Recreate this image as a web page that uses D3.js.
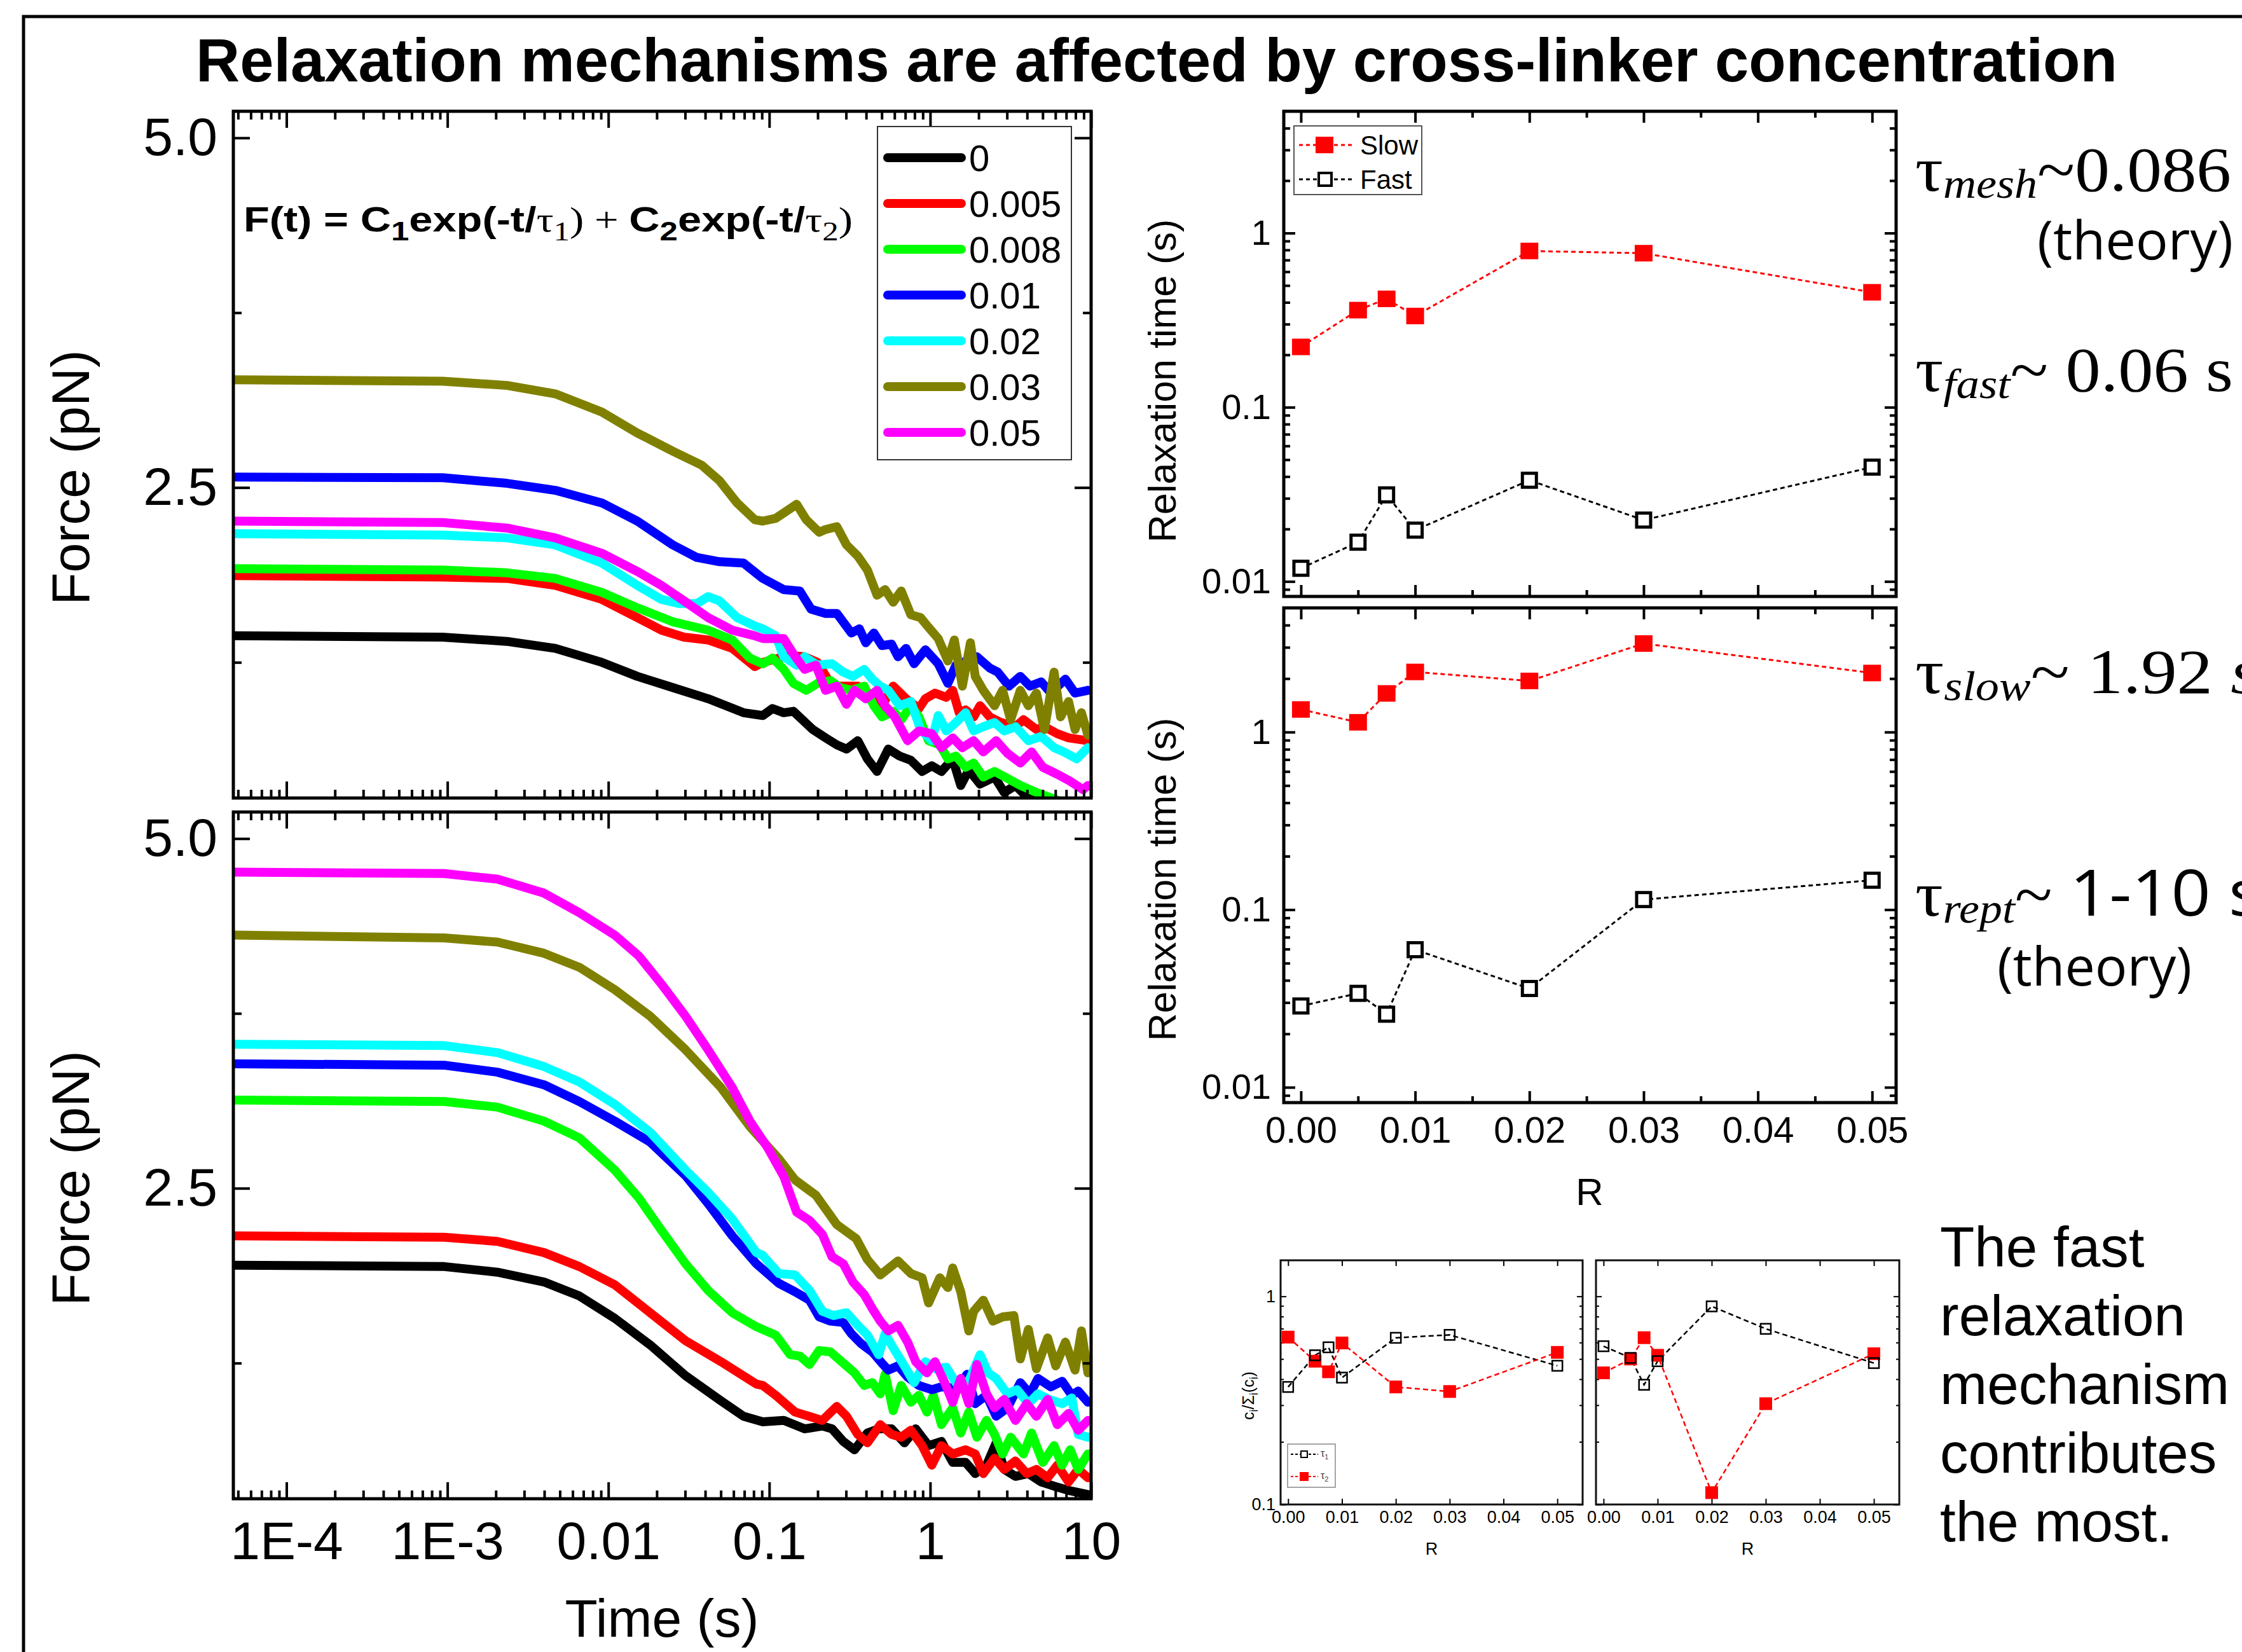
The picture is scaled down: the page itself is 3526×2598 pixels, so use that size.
<!DOCTYPE html>
<html>
<head>
<meta charset="utf-8">
<script src="https://cdn.jsdelivr.net/npm/d3@7"></script>
<style>
  body { margin: 0; background: #fff; }
  svg text { font-family: Arial, "Liberation Sans", sans-serif; }
</style>
</head>
<body>
<svg id="fig" width="3526" height="2598"></svg>
<script>
// ---------- data ----------
const concLabels = ['0', '0.005', '0.008', '0.01', '0.02', '0.03', '0.05'];
const concColors = ['#000000', '#ff0000', '#00ff00', '#0000ff', '#00ffff', '#808000', '#ff00ff'];
const timeTicks = [1e-4, 1e-3, 0.01, 0.1, 1, 10];
const timeTickLabels = ['1E-4', '1E-3', '0.01', '0.1', '1', '10'];
const forceTicks = [2.5, 5.0];
const forceMinorTicks = [1.25, 3.75];

// force relaxation curves, points are [log10(t / s), F (pN)]
const top0 = [[-4.33,1.44],[-3.03,1.43],[-2.63,1.40],[-2.33,1.35],[-2.04,1.25],[-1.82,1.15],[-1.60,1.07],[-1.38,0.99],[-1.16,0.89],[-1.04,0.87],[-0.98,0.92],[-0.91,0.89],[-0.85,0.90],[-0.73,0.77],[-0.65,0.71],[-0.58,0.66],[-0.52,0.63],[-0.45,0.69],[-0.39,0.56],[-0.33,0.47],[-0.26,0.63],[-0.19,0.58],[-0.12,0.55],[-0.05,0.47],[0.01,0.51],[0.07,0.47],[0.14,0.56],[0.19,0.37],[0.24,0.48],[0.31,0.38],[0.40,0.43],[0.46,0.32],[0.53,0.37],[0.60,0.29],[0.70,0.25],[0.85,0.22]];
const top005 = [[-4.33,1.87],[-3.03,1.86],[-2.63,1.85],[-2.33,1.80],[-2.04,1.70],[-1.82,1.57],[-1.67,1.48],[-1.53,1.43],[-1.38,1.41],[-1.23,1.35],[-1.09,1.22],[-1.04,1.25],[-0.88,1.30],[-0.78,1.29],[-0.70,1.25],[-0.61,1.08],[-0.52,1.08],[-0.45,1.08],[-0.40,1.05],[-0.31,0.92],[-0.23,1.08],[-0.15,0.99],[-0.07,0.92],[-0.03,0.99],[0.03,1.03],[0.10,1.00],[0.14,1.05],[0.18,0.89],[0.22,0.91],[0.27,0.86],[0.31,0.94],[0.37,0.86],[0.44,0.82],[0.53,0.79],[0.58,0.84],[0.66,0.77],[0.71,0.79],[0.79,0.74],[0.86,0.71],[0.98,0.69]];
const top008 = [[-4.33,1.92],[-3.03,1.91],[-2.63,1.89],[-2.33,1.85],[-2.04,1.75],[-1.82,1.64],[-1.60,1.54],[-1.38,1.48],[-1.23,1.41],[-1.12,1.28],[-1.04,1.24],[-0.98,1.28],[-0.91,1.20],[-0.85,1.10],[-0.77,1.05],[-0.70,1.10],[-0.62,1.12],[-0.56,1.07],[-0.49,1.05],[-0.41,1.08],[-0.35,0.94],[-0.30,0.86],[-0.23,0.90],[-0.18,0.84],[-0.12,0.94],[-0.07,0.86],[-0.01,0.69],[0.06,0.66],[0.11,0.56],[0.16,0.58],[0.22,0.50],[0.27,0.53],[0.33,0.43],[0.40,0.47],[0.48,0.42],[0.56,0.37],[0.66,0.32],[0.80,0.26]];
const top01 = [[-4.33,2.575],[-3.03,2.57],[-2.63,2.53],[-2.33,2.48],[-2.04,2.39],[-1.82,2.26],[-1.60,2.09],[-1.45,2.00],[-1.31,1.97],[-1.16,1.96],[-1.04,1.85],[-0.91,1.77],[-0.81,1.76],[-0.74,1.63],[-0.65,1.60],[-0.58,1.60],[-0.49,1.46],[-0.44,1.49],[-0.40,1.39],[-0.35,1.46],[-0.30,1.37],[-0.24,1.38],[-0.20,1.29],[-0.15,1.35],[-0.10,1.24],[-0.03,1.34],[0.05,1.24],[0.11,1.10],[0.16,1.23],[0.29,1.29],[0.37,1.21],[0.42,1.18],[0.49,1.08],[0.56,1.15],[0.62,1.08],[0.69,1.11],[0.75,1.03],[0.84,1.13],[0.90,1.03],[0.98,1.05]];
const top02 = [[-4.33,2.17],[-3.03,2.16],[-2.63,2.14],[-2.33,2.09],[-2.04,1.96],[-1.82,1.80],[-1.67,1.70],[-1.56,1.67],[-1.45,1.67],[-1.38,1.72],[-1.31,1.69],[-1.20,1.57],[-1.09,1.51],[-1.04,1.49],[-0.96,1.44],[-0.91,1.29],[-0.83,1.23],[-0.78,1.29],[-0.70,1.23],[-0.61,1.24],[-0.54,1.18],[-0.48,1.15],[-0.41,1.20],[-0.36,1.13],[-0.31,1.08],[-0.26,1.05],[-0.19,0.94],[-0.12,0.97],[-0.06,0.77],[0.01,0.69],[0.05,0.87],[0.10,0.76],[0.16,0.82],[0.22,0.89],[0.27,0.76],[0.33,0.79],[0.40,0.82],[0.46,0.76],[0.53,0.79],[0.61,0.69],[0.69,0.72],[0.77,0.64],[0.83,0.61],[0.91,0.56],[0.98,0.64]];
const top03 = [[-4.33,3.27],[-3.03,3.26],[-2.63,3.23],[-2.33,3.17],[-2.04,3.04],[-1.82,2.89],[-1.60,2.76],[-1.42,2.66],[-1.31,2.55],[-1.20,2.39],[-1.09,2.27],[-1.04,2.26],[-0.96,2.28],[-0.83,2.38],[-0.77,2.27],[-0.69,2.18],[-0.65,2.20],[-0.58,2.22],[-0.52,2.09],[-0.45,2.01],[-0.39,1.91],[-0.33,1.73],[-0.28,1.77],[-0.23,1.68],[-0.18,1.76],[-0.12,1.59],[-0.06,1.57],[-0.01,1.50],[0.05,1.42],[0.11,1.26],[0.15,1.41],[0.20,1.08],[0.25,1.39],[0.28,1.15],[0.33,1.05],[0.40,0.94],[0.45,1.05],[0.50,0.84],[0.56,1.05],[0.61,0.94],[0.66,1.03],[0.71,0.77],[0.77,1.18],[0.81,0.86],[0.86,0.97],[0.90,0.77],[0.94,0.89],[0.98,0.73]];
const top05 = [[-4.33,2.26],[-3.03,2.25],[-2.63,2.21],[-2.33,2.14],[-2.04,2.03],[-1.82,1.90],[-1.67,1.80],[-1.53,1.69],[-1.38,1.57],[-1.23,1.48],[-1.09,1.44],[-1.04,1.42],[-0.91,1.42],[-0.85,1.31],[-0.78,1.20],[-0.71,1.23],[-0.65,1.05],[-0.58,1.08],[-0.52,0.95],[-0.47,1.05],[-0.40,0.99],[-0.33,1.05],[-0.28,0.94],[-0.22,0.86],[-0.14,0.69],[-0.07,0.76],[0.01,0.74],[0.07,0.64],[0.14,0.71],[0.20,0.64],[0.27,0.69],[0.33,0.61],[0.41,0.69],[0.48,0.60],[0.56,0.53],[0.63,0.61],[0.70,0.50],[0.79,0.45],[0.87,0.40],[0.95,0.34],[0.98,0.37]];

const bot0 = [[-4.33,1.95],[-3.02,1.94],[-2.69,1.90],[-2.40,1.83],[-2.18,1.73],[-1.96,1.57],[-1.74,1.38],[-1.52,1.16],[-1.30,0.98],[-1.16,0.87],[-1.04,0.83],[-0.91,0.84],[-0.78,0.78],[-0.67,0.80],[-0.61,0.78],[-0.54,0.69],[-0.47,0.63],[-0.39,0.75],[-0.32,0.78],[-0.24,0.78],[-0.16,0.68],[-0.09,0.78],[-0.01,0.66],[0.07,0.69],[0.14,0.54],[0.22,0.54],[0.28,0.46],[0.35,0.52],[0.41,0.68],[0.46,0.49],[0.53,0.44],[0.61,0.46],[0.69,0.40],[0.77,0.37],[0.86,0.34],[0.98,0.31]];
const bot005 = [[-4.33,2.16],[-3.02,2.15],[-2.69,2.12],[-2.40,2.04],[-2.18,1.94],[-1.96,1.81],[-1.74,1.61],[-1.52,1.41],[-1.30,1.26],[-1.08,1.10],[-1.04,1.09],[-0.96,1.02],[-0.84,0.90],[-0.67,0.84],[-0.58,0.94],[-0.52,0.87],[-0.45,0.74],[-0.39,0.68],[-0.31,0.81],[-0.24,0.74],[-0.18,0.72],[-0.12,0.77],[-0.05,0.66],[0.01,0.52],[0.07,0.66],[0.14,0.60],[0.22,0.63],[0.28,0.60],[0.33,0.46],[0.40,0.57],[0.46,0.49],[0.53,0.55],[0.60,0.46],[0.66,0.49],[0.73,0.43],[0.79,0.52],[0.86,0.40],[0.92,0.49],[0.98,0.43]];
const bot008 = [[-4.33,3.13],[-3.02,3.12],[-2.69,3.08],[-2.40,2.98],[-2.18,2.86],[-1.96,2.63],[-1.81,2.43],[-1.67,2.20],[-1.52,1.96],[-1.38,1.77],[-1.23,1.61],[-1.08,1.51],[-1.04,1.49],[-0.96,1.45],[-0.87,1.31],[-0.81,1.30],[-0.75,1.24],[-0.69,1.34],[-0.62,1.33],[-0.54,1.25],[-0.47,1.18],[-0.41,1.09],[-0.36,1.11],[-0.31,1.03],[-0.28,1.17],[-0.23,0.91],[-0.18,1.09],[-0.12,0.97],[-0.07,1.02],[-0.02,0.90],[0.02,1.02],[0.07,0.81],[0.14,0.93],[0.19,0.75],[0.24,0.90],[0.29,0.72],[0.35,0.84],[0.40,0.74],[0.45,0.60],[0.50,0.72],[0.58,0.60],[0.63,0.75],[0.70,0.54],[0.77,0.66],[0.82,0.52],[0.87,0.63],[0.92,0.49],[0.98,0.60]];
const bot01 = [[-4.33,3.39],[-3.02,3.38],[-2.69,3.33],[-2.40,3.24],[-2.18,3.12],[-1.96,2.98],[-1.74,2.83],[-1.52,2.59],[-1.38,2.39],[-1.23,2.16],[-1.08,1.96],[-1.04,1.92],[-0.94,1.82],[-0.84,1.76],[-0.75,1.70],[-0.69,1.58],[-0.62,1.55],[-0.54,1.54],[-0.49,1.46],[-0.43,1.39],[-0.36,1.33],[-0.30,1.25],[-0.26,1.20],[-0.20,1.23],[-0.14,1.15],[-0.07,1.09],[0.01,1.06],[0.07,1.08],[0.16,1.07],[0.23,1.17],[0.28,0.96],[0.35,1.02],[0.41,0.87],[0.48,0.93],[0.56,1.11],[0.62,1.03],[0.67,1.14],[0.75,1.08],[0.82,1.12],[0.88,1.02],[0.92,1.05],[0.98,0.97]];
const bot02 = [[-4.33,3.53],[-3.02,3.52],[-2.69,3.47],[-2.40,3.37],[-2.18,3.26],[-1.96,3.10],[-1.74,2.90],[-1.52,2.63],[-1.38,2.47],[-1.23,2.28],[-1.08,2.04],[-1.04,2.02],[-0.94,1.89],[-0.84,1.88],[-0.75,1.77],[-0.67,1.62],[-0.60,1.59],[-0.52,1.61],[-0.45,1.52],[-0.39,1.45],[-0.32,1.31],[-0.28,1.46],[-0.23,1.36],[-0.15,1.21],[-0.10,1.11],[-0.03,1.26],[0.03,1.21],[0.10,1.22],[0.16,1.11],[0.24,1.12],[0.31,1.31],[0.36,1.18],[0.41,1.14],[0.48,1.03],[0.54,1.06],[0.61,0.96],[0.67,1.03],[0.74,0.99],[0.82,0.96],[0.88,1.00],[0.92,0.74],[0.98,0.72]];
const bot03 = [[-4.33,4.31],[-3.02,4.29],[-2.69,4.26],[-2.40,4.18],[-2.18,4.08],[-1.96,3.92],[-1.74,3.73],[-1.52,3.49],[-1.30,3.22],[-1.12,2.94],[-0.94,2.71],[-0.84,2.56],[-0.71,2.45],[-0.58,2.24],[-0.46,2.14],[-0.39,1.99],[-0.31,1.88],[-0.20,1.98],[-0.12,1.89],[-0.05,1.86],[-0.01,1.68],[0.06,1.86],[0.11,1.79],[0.14,1.93],[0.19,1.76],[0.24,1.48],[0.27,1.62],[0.33,1.70],[0.39,1.55],[0.45,1.58],[0.52,1.59],[0.56,1.28],[0.61,1.49],[0.66,1.21],[0.73,1.43],[0.78,1.23],[0.84,1.40],[0.90,1.20],[0.94,1.48],[0.98,1.18]];
const bot05 = [[-4.33,4.76],[-3.02,4.75],[-2.69,4.71],[-2.40,4.61],[-2.18,4.47],[-1.96,4.31],[-1.81,4.16],[-1.67,3.96],[-1.52,3.73],[-1.38,3.49],[-1.23,3.22],[-1.12,2.98],[-1.01,2.79],[-0.91,2.585],[-0.83,2.33],[-0.75,2.27],[-0.67,2.17],[-0.61,2.01],[-0.54,1.96],[-0.48,1.83],[-0.41,1.74],[-0.36,1.64],[-0.31,1.55],[-0.26,1.48],[-0.20,1.52],[-0.14,1.40],[-0.09,1.26],[-0.02,1.18],[0.03,1.26],[0.09,1.11],[0.14,0.97],[0.19,1.14],[0.24,0.96],[0.29,1.24],[0.35,1.03],[0.40,0.93],[0.46,0.99],[0.53,0.84],[0.60,0.96],[0.66,0.87],[0.73,0.99],[0.79,0.81],[0.86,0.89],[0.92,0.77],[0.98,0.84]];

// relaxation times vs R
const rValues = [0, 0.005, 0.0075, 0.01, 0.02, 0.03, 0.05];
const rTicks = [0, 0.01, 0.02, 0.03, 0.04, 0.05];
const rTickLabels = ['0.00', '0.01', '0.02', '0.03', '0.04', '0.05'];
const tauTicks = [0.01, 0.1, 1];
const tauTickLabels = ['0.01', '0.1', '1'];
const slowTop = [0.222, 0.361, 0.419, 0.334, 0.789, 0.766, 0.457];
const fastTop = [0.0119, 0.0168, 0.0314, 0.0197, 0.0381, 0.0225, 0.0453];
const slowBottom = [1.34, 1.135, 1.65, 2.18, 1.94, 3.15, 2.15];
const fastBottom = [0.0287, 0.0338, 0.0258, 0.0595, 0.0360, 0.114, 0.1465];

// amplitude fractions (insets)
const fracTicks = [0.1, 1];
const fracTickLabels = ['0.1', '1'];
const leftTau1 = [0.367, 0.521, 0.569, 0.407, 0.632, 0.653, 0.464];
const leftTau2 = [0.637, 0.488, 0.434, 0.597, 0.367, 0.349, 0.538];
const rightTau1 = [0.576, 0.506, 0.376, 0.488, 0.895, 0.698, 0.478];
const rightTau2 = [0.429, 0.500, 0.633, 0.521, 0.114, 0.305, 0.530];

const titleText = 'Relaxation mechanisms are affected by cross-linker concentration';
const noteLines = ['The fast', 'relaxation', 'mechanism', 'contributes', 'the most.'];

// ---------- drawing ----------
const svg = d3.select('#fig');

svg.append('path').attr('d', 'M37,2598V26H3526')
  .attr('fill', 'none').attr('stroke', '#000').attr('stroke-width', 5);

svg.append('text').attr('x', 308).attr('y', 128)
  .attr('font-size', 96).attr('font-weight', 'bold')
  .attr('textLength', 3022).attr('lengthAdjust', 'spacingAndGlyphs')
  .text(titleText);

// text with sub-scripted pieces
function rich(sel, parts, shift, subSize) {
  let cur = 0;
  parts.forEach(p => {
    const want = p.sub ? shift : 0;
    const ts = sel.append('tspan').attr('dy', want - cur).text(p.t);
    cur = want;
    if (p.sub) ts.attr('font-size', subSize);
    if (p.attrs) Object.entries(p.attrs).forEach(([k, v]) => ts.attr(k, v));
  });
  return sel;
}

function axis(axisFn, scale, tx, ty, values, size, labels, fontSize, pad, sw) {
  const ax = axisFn(scale).tickValues(values)
    .tickSizeInner(-size).tickSizeOuter(0).tickPadding(pad)
    .tickFormat(labels ? (d, i) => labels[i] : () => '');
  const g = svg.append('g').attr('transform', `translate(${tx},${ty})`).call(ax);
  g.select('.domain').remove();
  g.selectAll('line').attr('stroke-width', sw);
  g.attr('font-size', fontSize).attr('font-family', null);
  return g;
}

function logMinor(domain, eFrom, eTo) {
  const out = [];
  for (let e = eFrom; e <= eTo; e++)
    for (let k = 2; k <= 9; k++) {
      const v = k * Math.pow(10, e);
      if (v > domain[0] * 1.001 && v < domain[1] * 0.999) out.push(v);
    }
  return out;
}

// --- left: force vs time panels ---
const timeDomain = [Math.pow(10, -4.33), 10];
const forceDomain = [0.28, 5.19];

function forcePanel(top, curves, showX) {
  const left = 367, right = 1716, bottom = top + 1080;
  const x = d3.scaleLog().domain(timeDomain).range([left, right]);
  const y = d3.scaleLinear().domain(forceDomain).range([bottom, top]);
  const id = 'clip' + top;
  svg.append('clipPath').attr('id', id).append('rect')
    .attr('x', left).attr('y', top).attr('width', right - left).attr('height', bottom - top);
  const line = d3.line().x(d => x(Math.pow(10, d[0]))).y(d => y(d[1]));
  svg.append('g').attr('clip-path', `url(#${id})`)
    .selectAll('path').data(curves).join('path')
    .attr('d', line).attr('fill', 'none')
    .attr('stroke', (d, i) => concColors[i]).attr('stroke-width', 14)
    .attr('stroke-linejoin', 'round').attr('stroke-linecap', 'round');

  const minor = logMinor(timeDomain, -5, 0);
  axis(d3.axisBottom, x, 0, bottom, timeTicks, 26, showX ? timeTickLabels : null, 84, 35, 4);
  axis(d3.axisBottom, x, 0, bottom, minor, 13, null, 84, 0, 4);
  axis(d3.axisTop, x, 0, top, timeTicks, 26, null, 84, 0, 4);
  axis(d3.axisTop, x, 0, top, minor, 13, null, 84, 0, 4);
  axis(d3.axisLeft, y, left, 0, forceTicks, 26, forceTicks.map(d => d.toFixed(1)), 84, 25, 4);
  axis(d3.axisLeft, y, left, 0, forceMinorTicks, 13, null, 84, 0, 4);
  axis(d3.axisRight, y, right, 0, forceTicks, 26, null, 84, 0, 4);
  axis(d3.axisRight, y, right, 0, forceMinorTicks, 13, null, 84, 0, 4);

  svg.append('rect').attr('x', left).attr('y', top)
    .attr('width', right - left).attr('height', bottom - top)
    .attr('fill', 'none').attr('stroke', '#000').attr('stroke-width', 5);

  svg.append('text').attr('transform', `translate(140,${(top + bottom) / 2 + 36}) rotate(-90)`)
    .attr('text-anchor', 'middle').attr('font-size', 84).text('Force (pN)');
  return { x, y };
}

forcePanel(175, [top0, top005, top008, top01, top02, top03, top05], false);
forcePanel(1277, [bot0, bot005, bot008, bot01, bot02, bot03, bot05], true);

svg.append('text').attr('x', 1041).attr('y', 2574).attr('text-anchor', 'middle')
  .attr('font-size', 84).text('Time (s)');

// formula
const serifN = { 'font-weight': 'normal', 'font-family': 'Liberation Serif' };
rich(svg.append('text').attr('x', 383).attr('y', 364)
  .attr('font-size', 55).attr('font-weight', 'bold')
  .attr('textLength', 958).attr('lengthAdjust', 'spacingAndGlyphs'), [
  { t: 'F(t) = C' }, { t: '1', sub: true }, { t: 'exp(-t/' },
  { t: 'τ', attrs: serifN }, { t: '1', sub: true, attrs: serifN }, { t: ') + ', attrs: serifN },
  { t: 'C' }, { t: '2', sub: true }, { t: 'exp(-t/' },
  { t: 'τ', attrs: serifN }, { t: '2', sub: true, attrs: serifN }, { t: ')', attrs: serifN }
], 14, 42);

// legend of concentrations
const legG = svg.append('g');
legG.append('rect').attr('x', 1380).attr('y', 199).attr('width', 305).attr('height', 524)
  .attr('fill', '#fff').attr('stroke', '#333').attr('stroke-width', 2);
const legY = d3.scalePoint().domain(concLabels).range([248, 680]);
concLabels.forEach((c, i) => {
  legG.append('line').attr('x1', 1396).attr('x2', 1512)
    .attr('y1', legY(c)).attr('y2', legY(c))
    .attr('stroke', concColors[i]).attr('stroke-width', 14).attr('stroke-linecap', 'round');
  legG.append('text').attr('x', 1524).attr('y', legY(c) + 21).attr('font-size', 58).text(c);
});

// --- right: relaxation times vs R ---
const rDomain = [-0.0015, 0.0521];
const tauDomain = [0.0082, 5];

function tauPanel(top, bottom, slow, fast, showX, labelCenter) {
  const left = 2019, right = 2982;
  const x = d3.scaleLinear().domain(rDomain).range([left, right]);
  const y = d3.scaleLog().domain(tauDomain).range([bottom, top]);
  const minorY = logMinor(tauDomain, -3, 0);
  const minorX = [0.005, 0.015, 0.025, 0.035, 0.045];
  axis(d3.axisLeft, y, left, 0, tauTicks, 18, tauTickLabels, 56, 20, 4);
  axis(d3.axisLeft, y, left, 0, minorY, 10, null, 56, 0, 4);
  axis(d3.axisRight, y, right, 0, tauTicks, 18, null, 56, 0, 4);
  axis(d3.axisRight, y, right, 0, minorY, 10, null, 56, 0, 4);
  axis(d3.axisBottom, x, 0, bottom, rTicks, 18, showX ? rTickLabels : null, 58, 22, 4);
  axis(d3.axisBottom, x, 0, bottom, minorX, 10, null, 58, 0, 4);
  axis(d3.axisTop, x, 0, top, rTicks, 18, null, 58, 0, 4);
  axis(d3.axisTop, x, 0, top, minorX, 10, null, 58, 0, 4);
  svg.append('rect').attr('x', left).attr('y', top)
    .attr('width', right - left).attr('height', bottom - top)
    .attr('fill', 'none').attr('stroke', '#000').attr('stroke-width', 5);

  const line = d3.line().x((d, i) => x(rValues[i])).y(d => y(d));
  svg.append('path').datum(slow).attr('d', line).attr('fill', 'none')
    .attr('stroke', '#ff0000').attr('stroke-width', 3).attr('stroke-dasharray', '7,5');
  svg.append('path').datum(fast).attr('d', line).attr('fill', 'none')
    .attr('stroke', '#000').attr('stroke-width', 3).attr('stroke-dasharray', '7,5');
  svg.append('g').selectAll('rect').data(slow).join('rect')
    .attr('x', (d, i) => x(rValues[i]) - 14).attr('y', d => y(d) - 13)
    .attr('width', 28).attr('height', 26).attr('fill', '#ff0000');
  svg.append('g').selectAll('rect').data(fast).join('rect')
    .attr('x', (d, i) => x(rValues[i]) - 11).attr('y', d => y(d) - 11)
    .attr('width', 22).attr('height', 22).attr('fill', '#fff')
    .attr('stroke', '#000').attr('stroke-width', 5);

  svg.append('text').attr('transform', `translate(1849,${labelCenter}) rotate(-90)`)
    .attr('text-anchor', 'middle').attr('font-size', 61).text('Relaxation time (s)');
  return { x, y };
}

tauPanel(175, 938, slowTop, fastTop, false, 599);
tauPanel(956, 1734, slowBottom, fastBottom, true, 1383);
svg.append('text').attr('x', 2500).attr('y', 1895).attr('text-anchor', 'middle')
  .attr('font-size', 60).text('R');

// legend slow / fast
const lg2 = svg.append('g');
lg2.append('rect').attr('x', 2035).attr('y', 198).attr('width', 201).attr('height', 108)
  .attr('fill', '#fff').attr('stroke', '#555').attr('stroke-width', 2);
[['Slow', 228, true], ['Fast', 282, false]].forEach(([name, yy, filled]) => {
  lg2.append('line').attr('x1', 2043).attr('x2', 2127).attr('y1', yy).attr('y2', yy)
    .attr('stroke', filled ? '#ff0000' : '#000').attr('stroke-width', 3).attr('stroke-dasharray', '6,5');
  if (filled) {
    lg2.append('rect').attr('x', 2069).attr('y', yy - 13).attr('width', 28).attr('height', 26).attr('fill', '#ff0000');
  } else {
    lg2.append('rect').attr('x', 2074).attr('y', yy - 10).attr('width', 20).attr('height', 20)
      .attr('fill', '#fff').attr('stroke', '#000').attr('stroke-width', 4);
  }
  lg2.append('text').attr('x', 2139).attr('y', yy + 15).attr('font-size', 42).text(name);
});

// --- insets: amplitude fractions ---
const fracDomain = [0.1, 1.49];
const rInsetDomain = [-0.0014, 0.0547];

function insetPanel(left, right, tau1, tau2, showY) {
  const top = 1982, bottom = 2366;
  const x = d3.scaleLinear().domain(rInsetDomain).range([left, right]);
  const y = d3.scaleLog().domain(fracDomain).range([bottom, top]);
  const minorY = [0.2, 0.3, 0.4, 0.5, 0.6, 0.7, 0.8, 0.9];
  axis(d3.axisLeft, y, left, 0, fracTicks, 9, showY ? fracTickLabels : null, 27, 8, 2);
  axis(d3.axisLeft, y, left, 0, minorY, 5, null, 27, 0, 2);
  axis(d3.axisRight, y, right, 0, fracTicks, 9, null, 27, 0, 2);
  axis(d3.axisRight, y, right, 0, minorY, 5, null, 27, 0, 2);
  axis(d3.axisBottom, x, 0, bottom, rTicks, 9, rTickLabels, 27, 10, 2);
  axis(d3.axisTop, x, 0, top, rTicks, 9, null, 27, 0, 2);
  svg.append('rect').attr('x', left).attr('y', top)
    .attr('width', right - left).attr('height', bottom - top)
    .attr('fill', 'none').attr('stroke', '#111').attr('stroke-width', 3);

  const line = d3.line().x((d, i) => x(rValues[i])).y(d => y(d));
  svg.append('path').datum(tau1).attr('d', line).attr('fill', 'none')
    .attr('stroke', '#000').attr('stroke-width', 2.5).attr('stroke-dasharray', '8,5');
  svg.append('path').datum(tau2).attr('d', line).attr('fill', 'none')
    .attr('stroke', '#ff0000').attr('stroke-width', 2.5).attr('stroke-dasharray', '8,5');
  svg.append('g').selectAll('rect').data(tau2).join('rect')
    .attr('x', (d, i) => x(rValues[i]) - 10).attr('y', d => y(d) - 10)
    .attr('width', 20).attr('height', 20).attr('fill', '#ff0000');
  svg.append('g').selectAll('rect').data(tau1).join('rect')
    .attr('x', (d, i) => x(rValues[i]) - 8).attr('y', d => y(d) - 8)
    .attr('width', 16).attr('height', 16).attr('fill', 'none')
    .attr('stroke', '#000').attr('stroke-width', 2.5);
  svg.append('text').attr('x', (left + right) / 2).attr('y', 2445)
    .attr('text-anchor', 'middle').attr('font-size', 27).text('R');
}

insetPanel(2014, 2489, leftTau1, leftTau2, true);
insetPanel(2510, 2987, rightTau1, rightTau2, false);

rich(svg.append('text').attr('transform', 'translate(1972,2195) rotate(-90)')
  .attr('text-anchor', 'middle').attr('font-size', 25), [
  { t: 'c' }, { t: 'i', sub: true }, { t: '/Σ' }, { t: 'i', sub: true },
  { t: '(c' }, { t: 'i', sub: true }, { t: ')' }
], 6, 18);

// inset legend
const lg3 = svg.append('g');
lg3.append('rect').attr('x', 2025).attr('y', 2271).attr('width', 75).attr('height', 68)
  .attr('fill', '#fff').attr('stroke', '#888').attr('stroke-width', 1.5);
[[2287, false], [2322, true]].forEach(([yy, filled], i) => {
  lg3.append('line').attr('x1', 2030).attr('x2', 2073).attr('y1', yy).attr('y2', yy)
    .attr('stroke', filled ? '#ff0000' : '#000').attr('stroke-width', 2).attr('stroke-dasharray', '4,3');
  if (filled) {
    lg3.append('rect').attr('x', 2044).attr('y', yy - 7).attr('width', 14).attr('height', 14).attr('fill', '#ff0000');
  } else {
    lg3.append('rect').attr('x', 2046).attr('y', yy - 5).attr('width', 10).attr('height', 10)
      .attr('fill', '#fff').attr('stroke', '#000').attr('stroke-width', 2);
  }
  rich(lg3.append('text').attr('x', 2077).attr('y', yy + 4).attr('font-size', 16).attr('fill', '#444'),
    [{ t: 'τ' }, { t: String(i + 1), sub: true }], 4, 11);
});

// --- right-hand annotations ---
const serif = { 'font-family': 'Liberation Serif' };
const subIt = { 'font-family': 'Liberation Serif', 'font-style': 'italic' };
function tauLine(yy, name, rest, width) {
  const parts = [{ t: 'τ', attrs: serif }, { t: name, sub: true, attrs: subIt }];
  rest.forEach(r => parts.push({ t: r.t, attrs: Object.assign({}, serif, r.attrs || {}) }));
  rich(svg.append('text').attr('x', 3012).attr('y', yy).attr('font-size', 100)
    .attr('textLength', width).attr('lengthAdjust', 'spacingAndGlyphs'), parts, 11, 66);
}
tauLine(300, 'mesh', [{ t: '~0.086' }], 497);
tauLine(615, 'fast', [{ t: '~ 0.06 s' }], 500);
tauLine(1090, 'slow', [{ t: '~ 1.92 ' }, { t: 's', attrs: { 'font-style': 'italic' } }], 540);
tauLine(1440, 'rept', [{ t: '~ ' }, { t: '1-10 s', attrs: { 'font-family': 'Open Sans' } }], 545);

svg.append('text').attr('x', 3204).attr('y', 408).attr('font-size', 84)
  .style('font-family', '"Open Sans"')
  .attr('textLength', 308).attr('lengthAdjust', 'spacingAndGlyphs').text('(theory)');
svg.append('text').attr('x', 3141).attr('y', 1550).attr('font-size', 84)
  .style('font-family', '"Open Sans"')
  .attr('textLength', 306).attr('lengthAdjust', 'spacingAndGlyphs').text('(theory)');

svg.append('g').selectAll('text').data(noteLines).join('text')
  .attr('x', 3051).attr('y', (d, i) => 1992 + i * 108)
  .attr('font-size', 89).text(d => d);
</script>
</body>
</html>
